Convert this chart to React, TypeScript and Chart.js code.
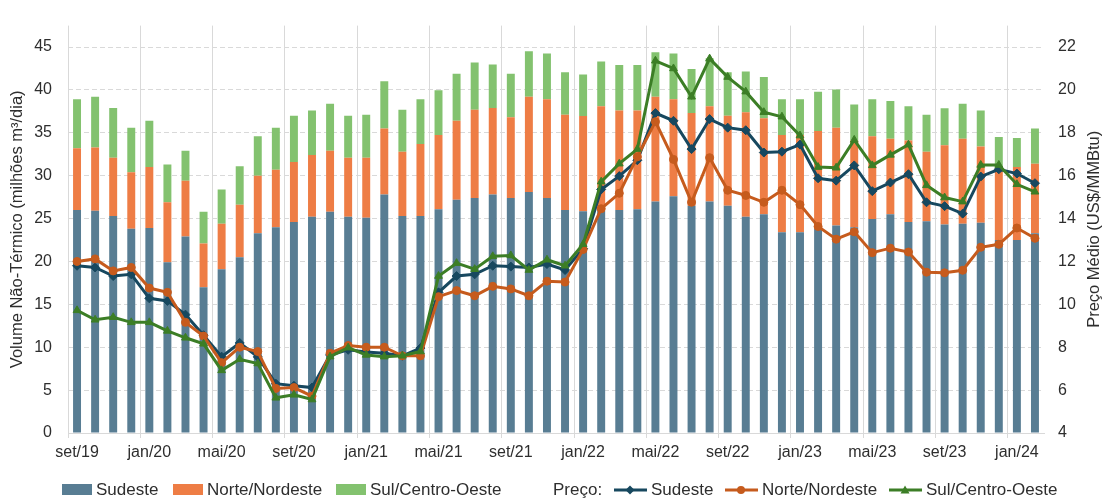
import React, { useEffect, useRef } from "react";
import { Chart, registerables } from "chart.js";

Chart.register(...registerables);

const meses = [
  "set/19", "out/19", "nov/19", "dez/19", "jan/20", "fev/20", "mar/20", "abr/20", "mai/20", "jun/20",
  "jul/20", "ago/20", "set/20", "out/20", "nov/20", "dez/20", "jan/21", "fev/21", "mar/21", "abr/21",
  "mai/21", "jun/21", "jul/21", "ago/21", "set/21", "out/21", "nov/21", "dez/21", "jan/22", "fev/22",
  "mar/22", "abr/22", "mai/22", "jun/22", "jul/22", "ago/22", "set/22", "out/22", "nov/22", "dez/22",
  "jan/23", "fev/23", "mar/23", "abr/23", "mai/23", "jun/23", "jul/23", "ago/23", "set/23", "out/23",
  "nov/23", "dez/23", "jan/24", "fev/24",
];

const volSudeste = [
  26.0, 25.9, 25.3, 23.8, 23.9, 19.9, 22.9, 17.0, 19.1, 20.5,
  23.3, 24.0, 24.6, 25.2, 25.8, 25.2, 25.1, 27.8, 25.3, 25.3,
  26.1, 27.2, 27.4, 27.8, 27.4, 28.1, 27.4, 26.0, 25.85, 25.95,
  26.0, 26.1, 27.0, 27.6, 26.5, 27.0, 26.5, 25.2, 25.5, 23.4,
  23.4, 23.8, 24.2, 24.0, 24.95, 25.5, 24.6, 24.7, 24.3, 24.4,
  24.5, 22.5, 22.5, 23.3,
];

const volNordeste = [
  7.2, 7.4, 6.8, 6.6, 7.1, 7.0, 6.5, 5.1, 5.3, 6.1,
  6.7, 6.7, 7.0, 7.2, 7.1, 6.9, 7.0, 7.7, 7.5, 8.4,
  8.65, 9.2, 10.3, 10.1, 9.4, 11.1, 11.5, 11.1, 11.1, 12.15,
  11.6, 11.5, 12.2, 11.3, 10.8, 11.1, 10.5, 12.2, 11.2, 11.35,
  11.35, 11.4, 11.4, 10.1, 9.65, 8.8, 9.5, 8.1, 9.25, 9.9,
  8.9, 8.3, 8.5, 8.1,
];

const volSul = [
  5.7, 5.9, 5.8, 5.2, 5.4, 4.4, 3.5, 3.7, 4.0, 4.5,
  4.6, 4.9, 5.4, 5.2, 5.5, 4.9, 5.0, 5.5, 4.9, 5.2,
  5.2, 5.5, 5.5, 5.05, 5.1, 5.3, 5.35, 4.95, 4.85, 5.2,
  5.3, 5.3, 5.2, 5.35, 5.15, 5.6, 5.05, 4.75, 4.8, 4.15,
  4.15, 4.6, 4.45, 4.2, 4.3, 4.4, 4.0, 4.3, 4.3, 4.1,
  4.2, 3.7, 3.4, 4.1,
];

const precoSudeste = [
  11.8, 11.72, 11.32, 11.4, 10.28, 10.16, 9.52, 8.56, 7.56, 8.2,
  7.55, 6.3, 6.2, 6.12, 7.64, 7.88, 7.78, 7.72, 7.6, 7.96,
  10.56, 11.32, 11.4, 11.8, 11.76, 11.72, 11.88, 11.6, 12.6, 15.36,
  15.98, 16.72, 18.92, 18.56, 17.24, 18.64, 18.24, 18.12, 17.08, 17.12,
  17.45, 15.88, 15.77, 16.48, 15.28, 15.68, 16.07, 14.76, 14.58, 14.23,
  15.96, 16.3, 16.1, 15.65,
];

const precoNordeste = [
  12.0, 12.12, 11.56, 11.72, 10.76, 10.56, 9.16, 8.52, 7.28, 8.0,
  7.8, 6.08, 6.12, 5.72, 7.72, 8.08, 8.0, 8.0, 7.6, 7.6,
  10.36, 10.64, 10.4, 10.84, 10.72, 10.4, 11.08, 11.04, 12.56, 14.46,
  15.18, 16.88, 18.52, 16.76, 14.76, 16.84, 15.32, 15.08, 14.76, 15.32,
  14.65, 13.63, 13.04, 13.38, 12.41, 12.62, 12.44, 11.5, 11.47, 11.59,
  12.66, 12.8, 13.56, 13.08,
];

const precoSul = [
  9.72, 9.28, 9.4, 9.16, 9.16, 8.76, 8.44, 8.16, 6.92, 7.44,
  7.24, 5.64, 5.78, 5.56, 7.56, 7.98, 7.64, 7.56, 7.6, 7.8,
  11.32, 11.92, 11.64, 12.24, 12.28, 11.6, 12.08, 11.8, 12.8, 15.72,
  16.56, 17.24, 21.36, 21.0, 19.68, 21.46, 20.6, 19.92, 18.96, 18.75,
  17.87, 16.4, 16.37, 17.67, 16.48, 16.97, 17.45, 15.55, 14.98, 14.79,
  16.5, 16.5, 15.6, 15.25,
];

const FONT = "'Liberation Sans', Arial, Helvetica, sans-serif";
const TEXT = "#2e2e2e";
const GRID = "#d9d9d9";

const barSE = "#587d93";
const barNE = "#ee7d45";
const barSul = "#83c26f";
const linSE = "#17485f";
const linNE = "#c65b1d";
const linSul = "#3c7e26";

const rightTitlePlugin = {
  id: "rightTitle",
  afterDraw(chart: any) {
    const { ctx, chartArea } = chart;
    const s = chart.scales.y2;
    ctx.save();
    ctx.translate(s.right - 13, (chartArea.top + chartArea.bottom) / 2);
    ctx.rotate(-Math.PI / 2);
    ctx.font = `16.5px ${FONT}`;
    ctx.fillStyle = TEXT;
    ctx.textAlign = "center";
    ctx.textBaseline = "middle";
    ctx.fillText("Preço Médio (US$/MMBtu)", 0, 0);
    ctx.restore();
  },
};

function LineIcon({ color, marker }: { color: string; marker: string }) {
  let m: any = null;
  if (marker === "diamond") m = <polygon points="16,1.5 20.5,6 16,10.5 11.5,6" fill={color} />;
  else if (marker === "circle") m = <circle cx="16" cy="6" r="4" fill={color} />;
  else m = <polygon points="16,1.5 20.5,9.5 11.5,9.5" fill={color} />;
  return (
    <svg width="33" height="12" style={{ display: "block" }}>
      <line x1="0" y1="6" x2="33" y2="6" stroke={color} strokeWidth="3" />
      {m}
    </svg>
  );
}

function BoxIcon({ color }: { color: string }) {
  return <div style={{ width: 30, height: 11, background: color }} />;
}

export default function App() {
  const canvasRef = useRef<HTMLCanvasElement | null>(null);

  useEffect(() => {
    document.body.style.margin = "0";
    const canvas = canvasRef.current;
    if (!canvas) return;
    const tickFont = { family: FONT, size: 16 };
    const chart = new Chart(canvas, {
      type: "bar",
      data: {
        labels: meses,
        datasets: [
          {
            type: "line",
            label: "Preço Sul/Centro-Oeste",
            data: precoSul,
            yAxisID: "y2",
            borderColor: linSul,
            backgroundColor: linSul,
            borderWidth: 3,
            pointStyle: "triangle",
            pointRadius: 4.5,
            pointBorderWidth: 1,
            tension: 0,
            order: 0,
          } as any,
          {
            type: "line",
            label: "Preço Norte/Nordeste",
            data: precoNordeste,
            yAxisID: "y2",
            borderColor: linNE,
            backgroundColor: linNE,
            borderWidth: 3,
            pointStyle: "circle",
            pointRadius: 4,
            pointBorderWidth: 1,
            tension: 0,
            order: 1,
          } as any,
          {
            type: "line",
            label: "Preço Sudeste",
            data: precoSudeste,
            yAxisID: "y2",
            borderColor: linSE,
            backgroundColor: linSE,
            borderWidth: 3,
            pointStyle: "rectRot",
            pointRadius: 4.5,
            pointBorderWidth: 1,
            tension: 0,
            order: 2,
          } as any,
          {
            label: "Sudeste",
            data: volSudeste,
            backgroundColor: barSE,
            yAxisID: "y",
            stack: "vol",
            barPercentage: 0.44,
            categoryPercentage: 1,
            order: 3,
          },
          {
            label: "Norte/Nordeste",
            data: volNordeste,
            backgroundColor: barNE,
            yAxisID: "y",
            stack: "vol",
            barPercentage: 0.44,
            categoryPercentage: 1,
            order: 3,
          },
          {
            label: "Sul/Centro-Oeste",
            data: volSul,
            backgroundColor: barSul,
            yAxisID: "y",
            stack: "vol",
            barPercentage: 0.44,
            categoryPercentage: 1,
            order: 3,
          },
        ],
      },
      options: {
        responsive: false,
        maintainAspectRatio: false,
        animation: false,
        layout: { padding: { top: 10, bottom: 30, left: 0, right: 0 } },
        plugins: {
          legend: { display: false },
          tooltip: { enabled: false },
        },
        scales: {
          x: {
            stacked: true,
            offset: true,
            grid: {
              offset: true,
              color: (c: any) => (c.index % 4 === 0 ? GRID : "rgba(0,0,0,0)"),
              tickLength: 5,
              drawTicks: true,
              lineWidth: 1,
            },
            border: { display: true, color: GRID, width: 1 },
            ticks: {
              autoSkip: false,
              maxRotation: 0,
              minRotation: 0,
              padding: 5,
              color: TEXT,
              font: tickFont,
              callback: (_v: any, i: number) => (i % 4 === 0 ? meses[i] : ""),
            },
            afterFit: (s: any) => {
              s.height = 36;
            },
          },
          y: {
            type: "linear",
            position: "left",
            stacked: true,
            min: 0,
            max: 47.5,
            bounds: "data",
            grid: { color: GRID, drawTicks: false, lineWidth: 1 },
            border: { display: false, dash: [5, 3] },
            ticks: {
              stepSize: 5,
              includeBounds: false,
              padding: 16,
              color: TEXT,
              font: tickFont,
            },
            afterBuildTicks: (s: any) => {
              s.ticks = s.ticks.filter((t: any) => t.value <= 45);
            },
            title: {
              display: true,
              text: "Volume Não-Térmico (milhões m³/dia)",
              color: TEXT,
              font: { family: FONT, size: 16.5 },
              padding: { top: 8, bottom: 0 },
            },
            afterFit: (s: any) => {
              s.width = 68;
            },
          },
          y2: {
            type: "linear",
            position: "right",
            min: 4,
            max: 23,
            bounds: "data",
            grid: { display: false, drawOnChartArea: false, drawTicks: false },
            border: { display: false },
            ticks: {
              stepSize: 2,
              includeBounds: false,
              padding: 14,
              color: TEXT,
              font: tickFont,
            },
            afterBuildTicks: (s: any) => {
              s.ticks = s.ticks.filter((t: any) => t.value <= 22);
            },
            afterFit: (s: any) => {
              s.width = 63;
            },
          },
        },
      } as any,
      plugins: [rightTitlePlugin],
    });
    return () => chart.destroy();
  }, []);

  const txt: React.CSSProperties = {
    fontFamily: FONT,
    fontSize: 17,
    color: TEXT,
    whiteSpace: "nowrap",
    lineHeight: "19px",
  };
  const item = (left: number): React.CSSProperties => ({
    position: "absolute",
    left,
    top: 480,
    height: 19,
    display: "flex",
    alignItems: "center",
    gap: 4,
  });

  return (
    <div style={{ position: "relative", width: 1107, height: 499, background: "#ffffff" }}>
      <canvas ref={canvasRef} width={1107} height={499} style={{ display: "block", width: 1107, height: 499 }} />
      <div style={item(62)}>
        <BoxIcon color={barSE} />
        <span style={txt}>Sudeste</span>
      </div>
      <div style={item(173)}>
        <BoxIcon color={barNE} />
        <span style={txt}>Norte/Nordeste</span>
      </div>
      <div style={item(336)}>
        <BoxIcon color={barSul} />
        <span style={txt}>Sul/Centro-Oeste</span>
      </div>
      <div style={item(553)}>
        <span style={txt}>Preço:</span>
      </div>
      <div style={item(614)}>
        <LineIcon color={linSE} marker="diamond" />
        <span style={txt}>Sudeste</span>
      </div>
      <div style={item(725)}>
        <LineIcon color={linNE} marker="circle" />
        <span style={txt}>Norte/Nordeste</span>
      </div>
      <div style={item(889)}>
        <LineIcon color={linSul} marker="triangle" />
        <span style={txt}>Sul/Centro-Oeste</span>
      </div>
    </div>
  );
}
